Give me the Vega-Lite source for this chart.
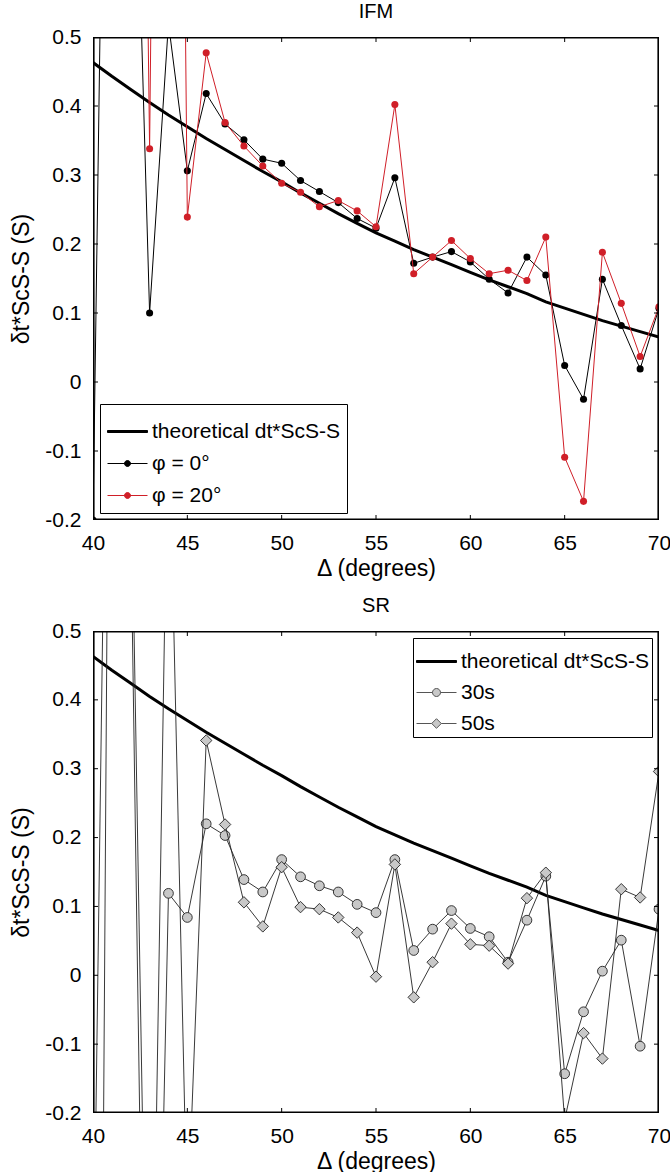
{
  "$schema": "https://vega.github.io/schema/vega-lite/v6.json",
  "background": "white",
  "padding": {"left": 10, "top": 2, "right": 12, "bottom": 0},
  "spacing": 16,
  "resolve": {"scale": {"shape": "independent", "fill": "independent", "stroke": "independent"}, "legend": {"shape": "independent", "fill": "independent", "stroke": "independent"}},
  "datasets": {
    "frame": [
      {"delta": 40, "v": -0.2, "o": 0}, {"delta": 70, "v": -0.2, "o": 1}, {"delta": 70, "v": 0.5, "o": 2},
      {"delta": 40, "v": 0.5, "o": 3}, {"delta": 40, "v": -0.2, "o": 4}
    ],
    "xticks": [{"t": 40}, {"t": 45}, {"t": 50}, {"t": 55}, {"t": 60}, {"t": 65}, {"t": 70}],
    "yticks": [{"t": -0.2}, {"t": -0.1}, {"t": 0}, {"t": 0.1}, {"t": 0.2}, {"t": 0.3}, {"t": 0.4}, {"t": 0.5}],
    "theo": [
      {"delta": 40, "v": 0.463}, {"delta": 41, "v": 0.443}, {"delta": 42, "v": 0.424}, {"delta": 43, "v": 0.405},
      {"delta": 44, "v": 0.387}, {"delta": 45, "v": 0.370}, {"delta": 46, "v": 0.353}, {"delta": 47, "v": 0.337},
      {"delta": 48, "v": 0.321}, {"delta": 49, "v": 0.305}, {"delta": 50, "v": 0.290}, {"delta": 51, "v": 0.274},
      {"delta": 52, "v": 0.259}, {"delta": 53, "v": 0.244}, {"delta": 54, "v": 0.230}, {"delta": 55, "v": 0.216},
      {"delta": 56, "v": 0.204}, {"delta": 57, "v": 0.192}, {"delta": 58, "v": 0.181}, {"delta": 59, "v": 0.170},
      {"delta": 60, "v": 0.159}, {"delta": 61, "v": 0.148}, {"delta": 62, "v": 0.138}, {"delta": 63, "v": 0.128},
      {"delta": 64, "v": 0.116}, {"delta": 65, "v": 0.107}, {"delta": 66, "v": 0.098}, {"delta": 67, "v": 0.089},
      {"delta": 68, "v": 0.081}, {"delta": 69, "v": 0.073}, {"delta": 70, "v": 0.065}
    ],
    "ifm": [
      {"delta": 40, "v": -0.2, "series": "φ = 0°"}, {"delta": 41, "v": 1.7, "series": "φ = 0°"},
      {"delta": 42, "v": 1.05, "series": "φ = 0°"}, {"delta": 43, "v": 0.1, "series": "φ = 0°"},
      {"delta": 44, "v": 0.52, "series": "φ = 0°"}, {"delta": 45, "v": 0.306, "series": "φ = 0°"},
      {"delta": 46, "v": 0.418, "series": "φ = 0°"}, {"delta": 47, "v": 0.374, "series": "φ = 0°"},
      {"delta": 48, "v": 0.351, "series": "φ = 0°"}, {"delta": 49, "v": 0.323, "series": "φ = 0°"},
      {"delta": 50, "v": 0.317, "series": "φ = 0°"}, {"delta": 51, "v": 0.292, "series": "φ = 0°"},
      {"delta": 52, "v": 0.276, "series": "φ = 0°"}, {"delta": 53, "v": 0.260, "series": "φ = 0°"},
      {"delta": 54, "v": 0.237, "series": "φ = 0°"}, {"delta": 55, "v": 0.223, "series": "φ = 0°"},
      {"delta": 56, "v": 0.296, "series": "φ = 0°"}, {"delta": 57, "v": 0.172, "series": "φ = 0°"},
      {"delta": 58, "v": 0.181, "series": "φ = 0°"}, {"delta": 59, "v": 0.189, "series": "φ = 0°"},
      {"delta": 60, "v": 0.174, "series": "φ = 0°"}, {"delta": 61, "v": 0.149, "series": "φ = 0°"},
      {"delta": 62, "v": 0.129, "series": "φ = 0°"}, {"delta": 63, "v": 0.181, "series": "φ = 0°"},
      {"delta": 64, "v": 0.155, "series": "φ = 0°"}, {"delta": 65, "v": 0.024, "series": "φ = 0°"},
      {"delta": 66, "v": -0.025, "series": "φ = 0°"}, {"delta": 67, "v": 0.149, "series": "φ = 0°"},
      {"delta": 68, "v": 0.082, "series": "φ = 0°"}, {"delta": 69, "v": 0.019, "series": "φ = 0°"},
      {"delta": 70, "v": 0.107, "series": "φ = 0°"},
      {"delta": 42, "v": 2.5, "series": "φ = 20°"}, {"delta": 43, "v": 0.338, "series": "φ = 20°"},
      {"delta": 44, "v": 3.0, "series": "φ = 20°"}, {"delta": 45, "v": 0.239, "series": "φ = 20°"},
      {"delta": 46, "v": 0.477, "series": "φ = 20°"}, {"delta": 47, "v": 0.376, "series": "φ = 20°"},
      {"delta": 48, "v": 0.342, "series": "φ = 20°"}, {"delta": 49, "v": 0.313, "series": "φ = 20°"},
      {"delta": 50, "v": 0.288, "series": "φ = 20°"}, {"delta": 51, "v": 0.275, "series": "φ = 20°"},
      {"delta": 52, "v": 0.254, "series": "φ = 20°"}, {"delta": 53, "v": 0.263, "series": "φ = 20°"},
      {"delta": 54, "v": 0.248, "series": "φ = 20°"}, {"delta": 55, "v": 0.225, "series": "φ = 20°"},
      {"delta": 56, "v": 0.402, "series": "φ = 20°"}, {"delta": 57, "v": 0.157, "series": "φ = 20°"},
      {"delta": 58, "v": 0.181, "series": "φ = 20°"}, {"delta": 59, "v": 0.205, "series": "φ = 20°"},
      {"delta": 60, "v": 0.179, "series": "φ = 20°"}, {"delta": 61, "v": 0.157, "series": "φ = 20°"},
      {"delta": 62, "v": 0.162, "series": "φ = 20°"}, {"delta": 63, "v": 0.147, "series": "φ = 20°"},
      {"delta": 64, "v": 0.210, "series": "φ = 20°"}, {"delta": 65, "v": -0.109, "series": "φ = 20°"},
      {"delta": 66, "v": -0.173, "series": "φ = 20°"}, {"delta": 67, "v": 0.188, "series": "φ = 20°"},
      {"delta": 68, "v": 0.114, "series": "φ = 20°"}, {"delta": 69, "v": 0.037, "series": "φ = 20°"},
      {"delta": 70, "v": 0.109, "series": "φ = 20°"}
    ],
    "sr": [
      {"delta": 40, "v": -0.51, "series": "30s"}, {"delta": 41, "v": 1.47, "series": "30s"},
      {"delta": 42, "v": 0.66, "series": "30s"}, {"delta": 43, "v": -1.16, "series": "30s"},
      {"delta": 44, "v": 0.119, "series": "30s"}, {"delta": 45, "v": 0.084, "series": "30s"},
      {"delta": 46, "v": 0.220, "series": "30s"}, {"delta": 47, "v": 0.203, "series": "30s"},
      {"delta": 48, "v": 0.139, "series": "30s"}, {"delta": 49, "v": 0.121, "series": "30s"},
      {"delta": 50, "v": 0.168, "series": "30s"}, {"delta": 51, "v": 0.143, "series": "30s"},
      {"delta": 52, "v": 0.130, "series": "30s"}, {"delta": 53, "v": 0.121, "series": "30s"},
      {"delta": 54, "v": 0.103, "series": "30s"}, {"delta": 55, "v": 0.091, "series": "30s"},
      {"delta": 56, "v": 0.168, "series": "30s"}, {"delta": 57, "v": 0.036, "series": "30s"},
      {"delta": 58, "v": 0.067, "series": "30s"}, {"delta": 59, "v": 0.094, "series": "30s"},
      {"delta": 60, "v": 0.068, "series": "30s"}, {"delta": 61, "v": 0.056, "series": "30s"},
      {"delta": 62, "v": 0.019, "series": "30s"}, {"delta": 63, "v": 0.080, "series": "30s"},
      {"delta": 64, "v": 0.144, "series": "30s"}, {"delta": 65, "v": -0.143, "series": "30s"},
      {"delta": 66, "v": -0.053, "series": "30s"}, {"delta": 67, "v": 0.006, "series": "30s"},
      {"delta": 68, "v": 0.051, "series": "30s"}, {"delta": 69, "v": -0.103, "series": "30s"},
      {"delta": 70, "v": 0.096, "series": "30s"},
      {"delta": 40, "v": -2.47, "series": "50s"}, {"delta": 41, "v": 1.56, "series": "50s"},
      {"delta": 42, "v": 0.78, "series": "50s"}, {"delta": 43, "v": -0.81, "series": "50s"},
      {"delta": 44, "v": 0.85, "series": "50s"}, {"delta": 45, "v": -0.37, "series": "50s"},
      {"delta": 46, "v": 0.341, "series": "50s"}, {"delta": 47, "v": 0.219, "series": "50s"},
      {"delta": 48, "v": 0.106, "series": "50s"}, {"delta": 49, "v": 0.071, "series": "50s"},
      {"delta": 50, "v": 0.157, "series": "50s"}, {"delta": 51, "v": 0.099, "series": "50s"},
      {"delta": 52, "v": 0.096, "series": "50s"}, {"delta": 53, "v": 0.084, "series": "50s"},
      {"delta": 54, "v": 0.062, "series": "50s"}, {"delta": 55, "v": -0.002, "series": "50s"},
      {"delta": 56, "v": 0.161, "series": "50s"}, {"delta": 57, "v": -0.032, "series": "50s"},
      {"delta": 58, "v": 0.019, "series": "50s"}, {"delta": 59, "v": 0.075, "series": "50s"},
      {"delta": 60, "v": 0.045, "series": "50s"}, {"delta": 61, "v": 0.043, "series": "50s"},
      {"delta": 62, "v": 0.017, "series": "50s"}, {"delta": 63, "v": 0.112, "series": "50s"},
      {"delta": 64, "v": 0.149, "series": "50s"}, {"delta": 65, "v": -0.21, "series": "50s"},
      {"delta": 66, "v": -0.084, "series": "50s"}, {"delta": 67, "v": -0.121, "series": "50s"},
      {"delta": 68, "v": 0.125, "series": "50s"}, {"delta": 69, "v": 0.113, "series": "50s"},
      {"delta": 70, "v": 0.296, "series": "50s"}
    ],
    "ifmLegend": [{"series": "theoretical dt*ScS-S"}, {"series": "φ = 0°"}, {"series": "φ = 20°"}],
    "srLegend": [{"series": "theoretical dt*ScS-S"}, {"series": "30s"}, {"series": "50s"}]
  },
  "config": {
    "font": "Liberation Sans",
    "view": {"stroke": null},
    "axis": {
      "grid": false,
      "domain": false,
      "ticks": false,
      "labelFlush": false,
      "labelFont": "Liberation Sans",
      "labelFontSize": 21,
      "labelColor": "black",
      "labelPadding": 12,
      "titleFont": "Liberation Sans",
      "titleFontSize": 23,
      "titleFontWeight": "normal",
      "titleColor": "black"
    },
    "title": {"font": "Liberation Sans", "fontSize": 20, "fontWeight": "normal", "color": "black", "frame": "group", "offset": 0},
    "legend": {
      "strokeColor": "black",
      "fillColor": "white",
      "padding": 7,
      "cornerRadius": 0,
      "labelFont": "Liberation Sans",
      "labelFontSize": 21,
      "labelColor": "black",
      "symbolSize": 1600,
      "symbolStrokeWidth": 1,
      "labelOffset": 4,
      "rowPadding": 0,
      "labelLimit": 400
    }
  },
  "vconcat": [
    {
      "width": 566,
      "height": 483,
      "title": "IFM",
      "layer": [
        {
          "data": {"name": "theo"},
          "mark": {"type": "line", "color": "black", "strokeWidth": 3, "clip": true},
          "encoding": {
            "x": {"field": "delta", "type": "quantitative", "scale": {"domain": [40, 70], "nice": false, "zero": false},
                  "axis": {"values": [40, 45, 50, 55, 60, 65, 70], "format": "d", "title": "Δ (degrees)", "titlePadding": 4}},
            "y": {"field": "v", "type": "quantitative", "scale": {"domain": [-0.2, 0.5], "nice": false, "zero": false},
                  "axis": {"values": [-0.2, -0.1, 0, 0.1, 0.2, 0.3, 0.4, 0.5], "title": "δt*ScS-S (S)", "titlePadding": 11,
                           "labelExpr": "datum.value == 0 ? '0' : (datum.value < 0 ? '-' + format(-datum.value, '.1f') : format(datum.value, '.1f'))"}}
          }
        },
        {
          "data": {"name": "ifm"},
          "transform": [{"filter": "datum.series == 'φ = 0°'"}],
          "mark": {"type": "line", "color": "black", "strokeWidth": 1, "clip": true},
          "encoding": {"x": {"field": "delta", "type": "quantitative"}, "y": {"field": "v", "type": "quantitative"}}
        },
        {
          "data": {"name": "ifm"},
          "transform": [{"filter": "datum.series == 'φ = 0°'"}],
          "mark": {"type": "point", "filled": true, "color": "black", "opacity": 1, "size": 50, "clip": true},
          "encoding": {"x": {"field": "delta", "type": "quantitative"}, "y": {"field": "v", "type": "quantitative"}}
        },
        {
          "data": {"name": "ifm"},
          "transform": [{"filter": "datum.series == 'φ = 20°'"}],
          "mark": {"type": "line", "color": "#d01f28", "strokeWidth": 1, "clip": true},
          "encoding": {"x": {"field": "delta", "type": "quantitative"}, "y": {"field": "v", "type": "quantitative"}}
        },
        {
          "data": {"name": "ifm"},
          "transform": [{"filter": "datum.series == 'φ = 20°'"}],
          "mark": {"type": "point", "filled": true, "color": "#d01f28", "opacity": 1, "size": 50, "clip": true},
          "encoding": {"x": {"field": "delta", "type": "quantitative"}, "y": {"field": "v", "type": "quantitative"}}
        },
        {
          "data": {"name": "ifmLegend"},
          "mark": {"type": "point", "opacity": 1, "size": 1600, "strokeWidth": 1},
          "encoding": {
            "x": {"field": "delta", "type": "quantitative"},
            "y": {"field": "v", "type": "quantitative"},
            "shape": {"field": "series", "type": "nominal",
                      "scale": {"domain": ["theoretical dt*ScS-S", "φ = 0°", "φ = 20°"],
                                "range": ["M-1,-0.05H1V0.05H-1Z", "M-1,0H1M0.15,0A0.15,0.15,0,1,1,-0.15,0A0.15,0.15,0,1,1,0.15,0", "M-1,0H1M0.15,0A0.15,0.15,0,1,1,-0.15,0A0.15,0.15,0,1,1,0.15,0"]},
                      "legend": {"title": null, "orient": "bottom-left", "offset": 7, "rowPadding": 1}},
            "fill": {"field": "series", "type": "nominal",
                     "scale": {"domain": ["theoretical dt*ScS-S", "φ = 0°", "φ = 20°"], "range": ["black", "black", "#d01f28"]},
                     "legend": {"title": null, "orient": "bottom-left", "offset": 7, "rowPadding": 1}},
            "stroke": {"field": "series", "type": "nominal",
                       "scale": {"domain": ["theoretical dt*ScS-S", "φ = 0°", "φ = 20°"], "range": ["black", "black", "#d01f28"]},
                       "legend": {"title": null, "orient": "bottom-left", "offset": 7, "rowPadding": 1}}
          }
        },
        {
          "data": {"name": "frame"},
          "mark": {"type": "line", "color": "black", "strokeWidth": 3.2, "clip": true},
          "encoding": {
            "x": {"field": "delta", "type": "quantitative"},
            "y": {"field": "v", "type": "quantitative"},
            "order": {"field": "o"}
          }
        },
        {
          "data": {"name": "xticks"},
          "mark": {"type": "point", "shape": "M0,0V-1", "filled": false, "stroke": "black", "strokeWidth": 1, "size": 100, "opacity": 1, "clip": true},
          "encoding": {"x": {"field": "t", "type": "quantitative"}, "y": {"datum": -0.2, "type": "quantitative"}}
        },
        {
          "data": {"name": "xticks"},
          "mark": {"type": "point", "shape": "M0,0V1", "filled": false, "stroke": "black", "strokeWidth": 1, "size": 100, "opacity": 1, "clip": true},
          "encoding": {"x": {"field": "t", "type": "quantitative"}, "y": {"datum": 0.5, "type": "quantitative"}}
        },
        {
          "data": {"name": "yticks"},
          "mark": {"type": "point", "shape": "M0,0H1", "filled": false, "stroke": "black", "strokeWidth": 1, "size": 100, "opacity": 1, "clip": true},
          "encoding": {"y": {"field": "t", "type": "quantitative"}, "x": {"datum": 40, "type": "quantitative"}}
        },
        {
          "data": {"name": "yticks"},
          "mark": {"type": "point", "shape": "M0,0H-1", "filled": false, "stroke": "black", "strokeWidth": 1, "size": 100, "opacity": 1, "clip": true},
          "encoding": {"y": {"field": "t", "type": "quantitative"}, "x": {"datum": 70, "type": "quantitative"}}
        }
      ]
    },
    {
      "width": 566,
      "height": 482,
      "title": "SR",
      "layer": [
        {
          "data": {"name": "theo"},
          "mark": {"type": "line", "color": "black", "strokeWidth": 3, "clip": true},
          "encoding": {
            "x": {"field": "delta", "type": "quantitative", "scale": {"domain": [40, 70], "nice": false, "zero": false},
                  "axis": {"values": [40, 45, 50, 55, 60, 65, 70], "format": "d", "title": "Δ (degrees)", "titlePadding": 4}},
            "y": {"field": "v", "type": "quantitative", "scale": {"domain": [-0.2, 0.5], "nice": false, "zero": false},
                  "axis": {"values": [-0.2, -0.1, 0, 0.1, 0.2, 0.3, 0.4, 0.5], "title": "δt*ScS-S (S)", "titlePadding": 11,
                           "labelExpr": "datum.value == 0 ? '0' : (datum.value < 0 ? '-' + format(-datum.value, '.1f') : format(datum.value, '.1f'))"}}
          }
        },
        {
          "data": {"name": "sr"},
          "transform": [{"filter": "datum.series == '30s'"}],
          "mark": {"type": "line", "color": "#222", "strokeWidth": 0.9, "clip": true},
          "encoding": {"x": {"field": "delta", "type": "quantitative"}, "y": {"field": "v", "type": "quantitative"}}
        },
        {
          "data": {"name": "sr"},
          "transform": [{"filter": "datum.series == '30s'"}],
          "mark": {"type": "point", "shape": "circle", "filled": true, "fill": "#c8c8c8", "stroke": "#222", "strokeWidth": 0.9, "opacity": 1, "size": 95, "clip": true},
          "encoding": {"x": {"field": "delta", "type": "quantitative"}, "y": {"field": "v", "type": "quantitative"}}
        },
        {
          "data": {"name": "sr"},
          "transform": [{"filter": "datum.series == '50s'"}],
          "mark": {"type": "line", "color": "#222", "strokeWidth": 0.9, "clip": true},
          "encoding": {"x": {"field": "delta", "type": "quantitative"}, "y": {"field": "v", "type": "quantitative"}}
        },
        {
          "data": {"name": "sr"},
          "transform": [{"filter": "datum.series == '50s'"}],
          "mark": {"type": "point", "shape": "diamond", "filled": true, "fill": "#c8c8c8", "stroke": "#222", "strokeWidth": 0.9, "opacity": 1, "size": 130, "clip": true},
          "encoding": {"x": {"field": "delta", "type": "quantitative"}, "y": {"field": "v", "type": "quantitative"}}
        },
        {
          "data": {"name": "srLegend"},
          "mark": {"type": "point", "opacity": 1, "size": 1600, "strokeWidth": 1},
          "encoding": {
            "x": {"field": "delta", "type": "quantitative"},
            "y": {"field": "v", "type": "quantitative"},
            "shape": {"field": "series", "type": "nominal",
                      "scale": {"domain": ["theoretical dt*ScS-S", "30s", "50s"],
                                "range": ["M-1,-0.05H1V0.05H-1Z", "M-1,0H-0.2M0.2,0H1M0.2,0A0.2,0.2,0,1,1,-0.2,0A0.2,0.2,0,1,1,0.2,0", "M-1,0H-0.24M0.24,0H1M0.24,0L0,0.24L-0.24,0L0,-0.24Z"]},
                      "legend": {"title": null, "orient": "top-right", "offset": 7, "rowPadding": -6, "padding": 3}},
            "fill": {"field": "series", "type": "nominal",
                     "scale": {"domain": ["theoretical dt*ScS-S", "30s", "50s"], "range": ["black", "#c8c8c8", "#c8c8c8"]},
                     "legend": {"title": null, "orient": "top-right", "offset": 7, "rowPadding": -6, "padding": 3}},
            "stroke": {"field": "series", "type": "nominal",
                       "scale": {"domain": ["theoretical dt*ScS-S", "30s", "50s"], "range": ["black", "#555555", "#555555"]},
                       "legend": {"title": null, "orient": "top-right", "offset": 7, "rowPadding": -6, "padding": 3}}
          }
        },
        {
          "data": {"name": "frame"},
          "mark": {"type": "line", "color": "black", "strokeWidth": 3.2, "clip": true},
          "encoding": {
            "x": {"field": "delta", "type": "quantitative"},
            "y": {"field": "v", "type": "quantitative"},
            "order": {"field": "o"}
          }
        },
        {
          "data": {"name": "xticks"},
          "mark": {"type": "point", "shape": "M0,0V-1", "filled": false, "stroke": "black", "strokeWidth": 1, "size": 100, "opacity": 1, "clip": true},
          "encoding": {"x": {"field": "t", "type": "quantitative"}, "y": {"datum": -0.2, "type": "quantitative"}}
        },
        {
          "data": {"name": "xticks"},
          "mark": {"type": "point", "shape": "M0,0V1", "filled": false, "stroke": "black", "strokeWidth": 1, "size": 100, "opacity": 1, "clip": true},
          "encoding": {"x": {"field": "t", "type": "quantitative"}, "y": {"datum": 0.5, "type": "quantitative"}}
        },
        {
          "data": {"name": "yticks"},
          "mark": {"type": "point", "shape": "M0,0H1", "filled": false, "stroke": "black", "strokeWidth": 1, "size": 100, "opacity": 1, "clip": true},
          "encoding": {"y": {"field": "t", "type": "quantitative"}, "x": {"datum": 40, "type": "quantitative"}}
        },
        {
          "data": {"name": "yticks"},
          "mark": {"type": "point", "shape": "M0,0H-1", "filled": false, "stroke": "black", "strokeWidth": 1, "size": 100, "opacity": 1, "clip": true},
          "encoding": {"y": {"field": "t", "type": "quantitative"}, "x": {"datum": 70, "type": "quantitative"}}
        }
      ]
    }
  ]
}
